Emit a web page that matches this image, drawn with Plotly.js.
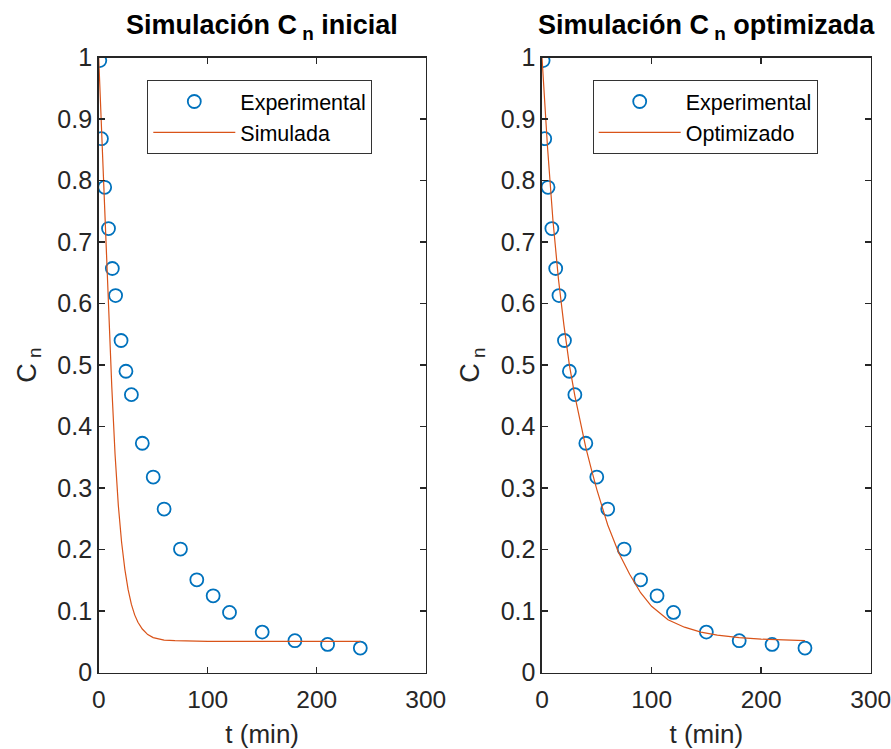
<!DOCTYPE html>
<html>
<head>
<meta charset="utf-8">
<script src="https://cdn.plot.ly/plotly-3.0.1.min.js"></script>
<style>html,body{margin:0;padding:0;background:#fff;}#chart{width:891px;height:749px;}</style>
</head>
<body>
<div id="chart"></div>
<script>
// Experimental data (same in both panels)
const tExp = [1, 2.5, 5.5, 9, 12.5, 15.5, 20.5, 25, 30, 40, 50, 60, 75, 90, 105, 120, 150, 180, 210, 240];
const cExp = [0.995, 0.868, 0.789, 0.722, 0.657, 0.613, 0.540, 0.490, 0.452, 0.373, 0.318, 0.266, 0.201, 0.151, 0.125, 0.098, 0.066, 0.052, 0.046, 0.040];

// Initial simulation (left panel)
const tSim = [0, 3, 6, 9, 12, 15, 18, 21, 24, 27, 30, 33, 36, 40, 45, 50, 55, 60, 70, 80, 100, 150, 200, 240];
const cSim = [1.0, 0.86, 0.725, 0.595, 0.465, 0.355, 0.272, 0.212, 0.168, 0.135, 0.111, 0.094, 0.082, 0.071, 0.062, 0.057, 0.0545, 0.053, 0.052, 0.0515, 0.051, 0.051, 0.051, 0.051];

// Optimized simulation (right panel)
const tOpt = [0, 5, 10, 15, 20, 25, 30, 35, 40, 45, 50, 60, 70, 80, 90, 100, 115, 130, 145, 160, 180, 200, 220, 240];
const cOpt = [1.0, 0.855, 0.735, 0.64, 0.565, 0.5, 0.45, 0.405, 0.366, 0.331, 0.298, 0.24, 0.195, 0.16, 0.13, 0.108, 0.086, 0.074, 0.066, 0.061, 0.057, 0.0545, 0.053, 0.052];

const xTicks = [0, 100, 200, 300];
const yTicks = [0, 0.1, 0.2, 0.3, 0.4, 0.5, 0.6, 0.7, 0.8, 0.9, 1];

const titles = ['Simulación C<sub> n</sub> inicial', 'Simulación C<sub> n</sub> optimizada'];
const xLabel = 't (min)';
const yLabel = 'C<sub> n</sub>';
const names = ['Experimental', 'Simulada', 'Optimizado'];

const FONT = 'Liberation Sans, Arial, Helvetica, sans-serif';
const BLUE = '#0072BD';
const ORANGE = '#D95319';
const AX = '#262626';

const W = 891, H = 749;
const yDom = [1 - 672.7 / H, 1 - 57.5 / H];
const x1Dom = [98.7 / W, 425.7 / W];
const x2Dom = [542 / W, 870.7 / W];

const markerStyle = {symbol: 'circle-open', size: 13, color: BLUE, line: {width: 1.8, color: BLUE}};

const traces = [
  {x: tExp, y: cExp, type: 'scatter', mode: 'markers', name: names[0], marker: markerStyle, xaxis: 'x', yaxis: 'y', legend: 'legend'},
  {x: tSim, y: cSim, type: 'scatter', mode: 'lines', name: names[1], line: {color: ORANGE, width: 1.2}, xaxis: 'x', yaxis: 'y', legend: 'legend'},
  {x: tExp, y: cExp, type: 'scatter', mode: 'markers', name: names[0], marker: markerStyle, xaxis: 'x2', yaxis: 'y2', legend: 'legend2'},
  {x: tOpt, y: cOpt, type: 'scatter', mode: 'lines', name: names[2], line: {color: ORANGE, width: 1.2}, xaxis: 'x2', yaxis: 'y2', legend: 'legend2'}
];

function xa(dom, anchor) {
  return {
    domain: dom, anchor: anchor, range: [0, 300], tickvals: xTicks, ticks: 'inside', ticklen: 6, tickwidth: 1.5, tickcolor: AX,
    showline: true, linecolor: AX, linewidth: 1.6, mirror: 'ticks', showgrid: false, zeroline: false,
    tickfont: {family: FONT, size: 24.5, color: AX}, ticklabelstandoff: 4, ticklabeloverflow: 'allow',
    title: {text: xLabel, font: {family: FONT, size: 26, color: AX}, standoff: 17}
  };
}
function ya(anchor) {
  return {
    domain: yDom, anchor: anchor, range: [0, 1], tickvals: yTicks, ticks: 'inside', ticklen: 6, tickwidth: 1.5, tickcolor: AX,
    showline: true, linecolor: AX, linewidth: 1.6, mirror: 'ticks', showgrid: false, zeroline: false,
    tickfont: {family: FONT, size: 25, color: AX}, ticklabeloverflow: 'allow',
    title: {text: yLabel, font: {family: FONT, size: 27, color: AX}, standoff: 13}
  };
}
function leg(xPix) {
  return {
    x: xPix / W, y: 1 - 80 / H, xanchor: 'left', yanchor: 'top',
    bgcolor: '#ffffff', bordercolor: '#333333', borderwidth: 1,
    font: {family: FONT, size: 21.5, color: '#000'}, itemwidth: 82, tracegroupgap: 0
  };
}

const layout = {
  width: W, height: H,
  margin: {l: 0, r: 0, t: 0, b: 0},
  paper_bgcolor: '#fff', plot_bgcolor: '#fff',
  showlegend: true,
  xaxis: xa(x1Dom, 'y'), yaxis: ya('x'),
  xaxis2: xa(x2Dom, 'y2'), yaxis2: ya('x2'),
  legend: leg(147.3), legend2: leg(592.7),
  annotations: [
    {text: '<b>' + titles[0] + '</b>', xref: 'paper', yref: 'paper', x: (x1Dom[0] + x1Dom[1]) / 2, y: 1 - 27 / H, xanchor: 'center', yanchor: 'middle', showarrow: false, font: {family: FONT, size: 27, color: '#000'}},
    {text: '<b>' + titles[1] + '</b>', xref: 'paper', yref: 'paper', x: (x2Dom[0] + x2Dom[1]) / 2, y: 1 - 27 / H, xanchor: 'center', yanchor: 'middle', showarrow: false, font: {family: FONT, size: 27, color: '#000'}}
  ]
};

Plotly.newPlot('chart', traces, layout, {displayModeBar: false, staticPlot: true});
</script>
</body>
</html>
